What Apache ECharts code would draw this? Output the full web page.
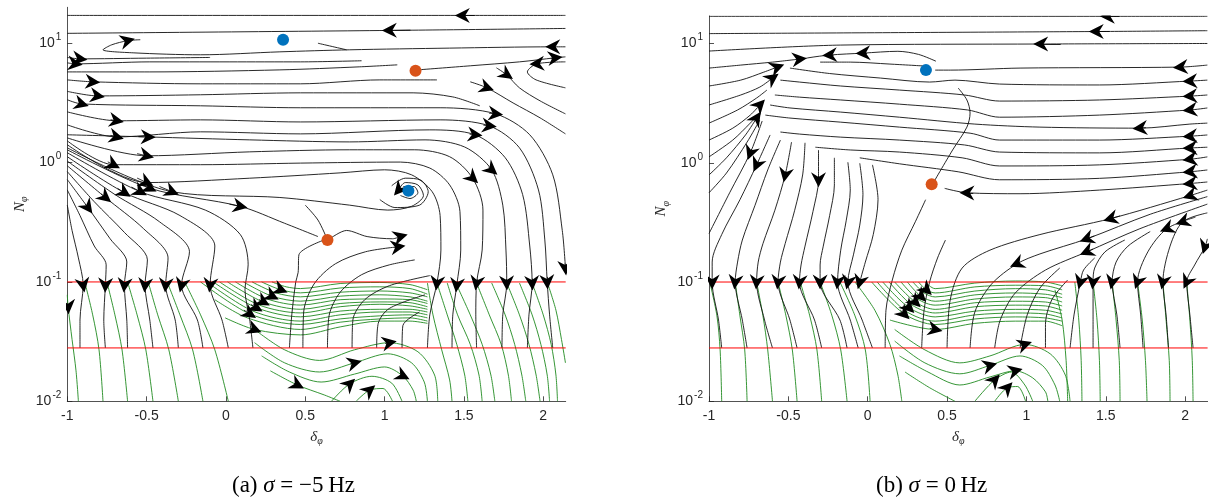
<!DOCTYPE html>
<html><head><meta charset="utf-8">
<script src="https://cdn.jsdelivr.net/npm/echarts@6/dist/echarts.min.js"></script>
<style>html,body{margin:0;padding:0;background:#fff}#c{width:1222px;height:501px}</style>
</head><body><div id="c"></div>
<script>
// ---------- data ----------
const xTicks = [-1, -0.5, 0, 0.5, 1, 1.5, 2];
const yTicks = [0.01, 0.1, 1, 10];
const xRange = [-1, 2.1416];
const yRangeA = [0.01, 20];
const yRangeB = [0.01, 17];
const thresholdLevels = [0.1, 0.028];
const stableA = [[0.36, 10.7], [1.15, 0.58]];
const saddleA = [[1.195, 5.87], [0.64, 0.225]];
const stableB = [[0.367, 5.98]];
const saddleB = [[0.403, 0.66]];
const captionA = '(a) {i|σ} = −5\u2009Hz';
const captionB = '(b) {i|σ} = 0\u2009Hz';

// streamlines: p = points in flow order [delta, N], a = indices of points carrying an arrowhead
const blackA = [
 {p:[[2.14,17.1],[1.49,17.1],[-1,17.1]],a:[1]},
 {p:[[2.14,13.3],[1.03,12.8],[-1,12.1]],a:[1]},
 {p:[[2.14,9.33],[2.06,9.33],[1.41,9.1],[0.78,8.81],[0.34,8.47],[-0.16,8.0],[-0.585,8.31],[-0.775,8.81],[-0.72,9.7],[-0.62,10.5],[-0.54,10.7]],a:[1,9]},
 {p:[[0.76,8.81],[0.58,10.0]],a:[]},
 {p:[[-1,7.6],[-0.92,7.4],[-0.5,7.5],[-0.1,7.6]],a:[1]},
 {p:[[-1,6.85],[-0.95,6.72],[-0.48,6.98],[0.02,6.98],[0.47,6.98],[0.855,7.13]],a:[1]},
 {p:[[-1,5.75],[-0.48,5.75],[0.34,5.98],[0.84,6.34],[1.08,6.59]],a:[]},
 {p:[[-1,4.93],[-0.84,4.75],[-0.16,4.57],[0.47,4.57],[0.97,4.93],[1.33,4.93]],a:[1]},
 {p:[[-1,3.95],[-0.81,3.62],[-0.16,3.70],[0.47,3.84],[1.18,3.84],[1.43,3.55],[1.60,2.99]],a:[1]},
 {p:[[-1,3.36],[-0.91,3.10],[-0.16,2.99],[0.47,2.88],[1.35,2.88],[1.70,2.56],[1.915,1.71],[2.06,0.79],[2.12,0.27],[2.14,0.131]],a:[1,5,9]},
 {p:[[-1,2.66],[-0.69,2.24],[-0.16,2.28],[0.47,2.19],[1.35,2.28],[1.66,2.03],[1.85,1.33],[1.97,0.59],[2.01,0.225],[2.025,0.10],[2.04,0.053],[2.06,0.028]],a:[1,5,9]},
 {p:[[-1,2.07],[-0.69,1.64],[-0.16,1.81],[0.47,1.74],[1.285,1.88],[1.57,1.71],[1.76,1.10],[1.87,0.54],[1.915,0.20],[1.93,0.098],[1.91,0.053],[1.90,0.028]],a:[1,5,9]},
 {p:[[-1,1.71],[-0.49,1.64],[0.15,1.55],[0.78,1.49],[1.255,1.55],[1.505,1.35],[1.675,0.87],[1.745,0.44],[1.765,0.185],[1.77,0.098],[1.745,0.053],[1.74,0.028]],a:[1,6,9]},
 {p:[[-1,1.61],[-0.50,1.14],[0.15,1.23],[0.78,1.28],[1.19,1.28],[1.41,1.12],[1.555,0.74],[1.62,0.40],[1.615,0.185],[1.58,0.098],[1.575,0.053],[1.58,0.028]],a:[1,6,9]},
 {p:[[-1,1.52],[-0.71,0.96],[-0.16,0.96],[0.47,0.99],[1.10,1.01],[1.285,0.90],[1.41,0.65],[1.475,0.39],[1.48,0.185],[1.455,0.094],[1.43,0.053],[1.425,0.028]],a:[1,9]},
 {p:[[-1,1.41],[-0.50,0.68],[0.15,0.74],[0.72,0.82],[1.00,0.87],[1.17,0.79],[1.30,0.57],[1.35,0.36],[1.355,0.185],[1.33,0.098],[1.285,0.053],[1.27,0.028]],a:[1,9]},
 {p:[[-1,1.33],[-0.34,0.57],[0.34,0.51],[0.78,0.44],[1.02,0.40],[1.17,0.43],[1.245,0.53],[1.21,0.65],[1.13,0.68],[1.09,0.59],[1.15,0.58]],a:[1,9]},
 {p:[[1.10,0.53],[1.16,0.50],[1.21,0.56],[1.185,0.63],[1.12,0.63],[1.115,0.57]],a:[]},
 {p:[[0.97,0.49],[1.065,0.42],[1.22,0.44],[1.275,0.57],[1.23,0.71],[1.13,0.74],[1.045,0.64]],a:[]},
 {p:[[-1,1.28],[-0.48,0.61],[0.09,0.43],[0.37,0.31],[0.58,0.24]],a:[1,2]},
 {p:[[-1,1.21],[-0.54,0.57],[-0.13,0.40],[0.09,0.25],[0.14,0.139],[0.12,0.086],[0.15,0.048],[0.17,0.028]],a:[1]},
 {p:[[-1,1.12],[-0.64,0.56],[-0.29,0.36],[-0.07,0.20],[-0.10,0.094],[-0.025,0.048],[0.015,0.028]],a:[1,4]},
 {p:[[-1,1.03],[-0.70,0.54],[-0.42,0.32],[-0.23,0.179],[-0.28,0.094],[-0.18,0.048],[-0.145,0.028]],a:[4]},
 {p:[[-1,0.94],[-0.76,0.51],[-0.52,0.28],[-0.365,0.159],[-0.38,0.094],[-0.32,0.048],[-0.30,0.028]],a:[1,4]},
 {p:[[-1,0.84],[-0.83,0.47],[-0.64,0.26],[-0.495,0.153],[-0.51,0.094],[-0.48,0.048],[-0.46,0.028]],a:[4]},
 {p:[[-1,0.72],[-0.87,0.42],[-0.73,0.23],[-0.625,0.147],[-0.64,0.094],[-0.625,0.048],[-0.62,0.028]],a:[1,4]},
 {p:[[-1,0.59],[-0.92,0.36],[-0.83,0.20],[-0.755,0.139],[-0.76,0.094],[-0.77,0.048],[-0.76,0.028]],a:[4]},
 {p:[[-1,0.44],[-0.97,0.27],[-0.93,0.159],[-0.90,0.094],[-0.92,0.048],[-0.92,0.028]],a:[3]},
 {p:[[0.62,0.225],[0.46,0.169],[0.455,0.12],[0.44,0.10],[0.415,0.053],[0.40,0.028]],a:[]},
 {p:[[0.64,0.225],[0.58,0.33],[0.50,0.44]],a:[]},
 {p:[[0.655,0.23],[0.76,0.27],[0.89,0.24],[1.05,0.23],[1.10,0.24]],a:[4]},
 {p:[[0.485,0.028],[0.49,0.056],[0.555,0.096],[0.69,0.142],[0.88,0.179],[1.085,0.197]],a:[5]},
 {p:[[0.64,0.028],[0.65,0.052],[0.72,0.082],[0.855,0.115],[1.03,0.139],[1.19,0.153]],a:[]},
 {p:[[0.795,0.028],[0.80,0.048],[0.875,0.071],[1.03,0.093],[1.285,0.113]],a:[]},
 {p:[[0.95,0.028],[0.96,0.045],[1.03,0.060],[1.255,0.078]],a:[]},
 {p:[[1.11,0.028],[1.115,0.043],[1.22,0.056]],a:[]},
 {p:[[1.21,5.98],[1.54,6.47],[1.85,6.98],[2.075,7.55],[2.14,7.69]],a:[3]},
 {p:[[2.14,6.98],[1.96,6.72],[1.90,5.75],[1.955,4.93],[2.14,4.23]],a:[1]},
 {p:[[1.705,6.22],[1.77,5.43],[1.85,4.23],[1.98,3.29],[2.14,2.56]],a:[1]},
 {p:[[1.54,4.75],[1.645,4.23],[1.81,3.16],[1.98,2.37],[2.14,1.74]],a:[1]}
];
const greenA = [
 {p:[[-1,0.078],[-0.995,0.062],[-0.97,0.033],[-0.945,0.018],[-0.93,0.01]],a:[1]},
 {p:[[-0.89,0.10],[-0.84,0.053],[-0.80,0.027],[-0.775,0.01]],a:[]},
 {p:[[-0.75,0.10],[-0.70,0.053],[-0.655,0.027],[-0.62,0.01]],a:[]},
 {p:[[-0.62,0.10],[-0.56,0.053],[-0.505,0.027],[-0.46,0.01]],a:[]},
 {p:[[-0.49,0.10],[-0.43,0.053],[-0.36,0.027],[-0.30,0.01]],a:[]},
 {p:[[-0.37,0.10],[-0.29,0.053],[-0.21,0.027],[-0.145,0.01]],a:[]},
 {p:[[-0.26,0.10],[-0.16,0.053],[-0.07,0.027],[0.015,0.01]],a:[]},
 {p:[[0.29,0.10],[0.38,0.091],[0.47,0.088],[0.72,0.097],[0.97,0.099],[1.16,0.095],[1.27,0.086]],a:[]},
 {p:[[0.225,0.10],[0.345,0.086],[0.47,0.081],[0.72,0.089],[0.97,0.091],[1.16,0.088],[1.27,0.079]],a:[1]},
 {p:[[0.165,0.10],[0.315,0.081],[0.47,0.075],[0.72,0.082],[0.97,0.084],[1.16,0.081],[1.27,0.075]],a:[]},
 {p:[[0.11,0.10],[0.29,0.076],[0.47,0.069],[0.72,0.076],[0.97,0.078],[1.16,0.075],[1.27,0.069]],a:[1]},
 {p:[[0.06,0.10],[0.26,0.072],[0.47,0.064],[0.72,0.071],[0.97,0.072],[1.16,0.071],[1.27,0.066]],a:[]},
 {p:[[0.01,0.10],[0.235,0.068],[0.47,0.059],[0.72,0.066],[0.97,0.068],[1.16,0.067],[1.27,0.062]],a:[1]},
 {p:[[-0.04,0.10],[0.21,0.064],[0.47,0.055],[0.72,0.062],[0.97,0.065],[1.16,0.063],[1.27,0.059]],a:[]},
 {p:[[-0.08,0.10],[0.19,0.061],[0.47,0.051],[0.72,0.057],[0.97,0.059],[1.16,0.059],[1.27,0.056]],a:[1]},
 {p:[[-0.12,0.10],[0.17,0.057],[0.47,0.047],[0.72,0.053],[0.97,0.056],[1.16,0.056],[1.27,0.053]],a:[]},
 {p:[[-0.16,0.10],[0.15,0.054],[0.47,0.044],[0.72,0.049],[0.97,0.052],[1.16,0.053],[1.27,0.050]],a:[1]},
 {p:[[-0.07,0.071],[0.135,0.050],[0.47,0.040],[0.72,0.046],[0.97,0.049],[1.16,0.050],[1.27,0.047]],a:[]},
 {p:[[-0.005,0.050],[0.18,0.040],[0.47,0.036],[0.72,0.042],[0.97,0.047],[1.16,0.047],[1.27,0.045]],a:[1]},
 {p:[[0.18,0.040],[0.37,0.027],[0.59,0.022],[0.81,0.027],[1.03,0.031],[1.21,0.026],[1.315,0.0166],[1.335,0.01]],a:[4]},
 {p:[[0.18,0.031],[0.37,0.021],[0.59,0.0176],[0.81,0.021],[1.02,0.025],[1.17,0.021],[1.25,0.0145],[1.27,0.01]],a:[3]},
 {p:[[0.225,0.024],[0.40,0.0176],[0.60,0.0145],[0.81,0.0169],[1.00,0.0194],[1.115,0.0163],[1.18,0.0124],[1.20,0.01]],a:[5]},
 {p:[[0.28,0.018],[0.45,0.0137],[0.62,0.0113],[0.72,0.01]],a:[1]},
 {p:[[0.665,0.01],[0.78,0.014],[0.92,0.0162],[1.045,0.0142],[1.11,0.01]],a:[1]},
 {p:[[0.82,0.01],[0.905,0.0124],[0.99,0.0128],[1.05,0.01]],a:[1]},
 {p:[[1.27,0.098],[1.305,0.053],[1.36,0.027],[1.41,0.0151],[1.425,0.01]],a:[]},
 {p:[[1.33,0.098],[1.395,0.053],[1.455,0.030],[1.505,0.0166],[1.525,0.01]],a:[]},
 {p:[[1.395,0.098],[1.46,0.053],[1.54,0.030],[1.595,0.0166],[1.615,0.01]],a:[]},
 {p:[[1.455,0.094],[1.54,0.053],[1.615,0.030],[1.67,0.0166],[1.695,0.01]],a:[]},
 {p:[[1.58,0.098],[1.66,0.053],[1.735,0.030],[1.78,0.0166],[1.80,0.01]],a:[]},
 {p:[[1.675,0.098],[1.76,0.053],[1.82,0.030],[1.865,0.0166],[1.89,0.01]],a:[]},
 {p:[[1.77,0.098],[1.85,0.053],[1.91,0.030],[1.955,0.0166],[1.98,0.01]],a:[]},
 {p:[[1.85,0.098],[1.93,0.053],[1.985,0.030],[2.025,0.0166],[2.04,0.01]],a:[]},
 {p:[[1.93,0.098],[2.00,0.053],[2.05,0.030],[2.08,0.0166],[2.09,0.01]],a:[]},
 {p:[[2.025,0.10],[2.08,0.058],[2.115,0.033],[2.14,0.021]],a:[]}
];
const blackB = [
 {p:[[2.14,16.9],[1.51,16.9],[-1,16.9]],a:[1]},
 {p:[[2.14,12.8],[1.44,12.6],[-1,12.1]],a:[1]},
 {p:[[2.14,10.0],[1.09,9.9],[-0.17,9.7],[-1,8.64]],a:[1]},
 {p:[[-1,6.22],[-0.80,6.59],[-0.60,6.98],[-0.43,7.4]],a:[3]},
 {p:[[-1,4.40],[-0.80,4.93],[-0.655,5.75],[-0.57,6.34]],a:[3]},
 {p:[[-1,3.05],[-0.80,3.70],[-0.68,4.31],[-0.60,5.13]],a:[3]},
 {p:[[-1,2.15],[-0.82,2.77],[-0.70,3.49],[-0.635,4.07]],a:[]},
 {p:[[-1,1.55],[-0.85,1.95],[-0.74,2.51],[-0.68,3.05]],a:[3]},
 {p:[[-1,1.12],[-0.85,1.55],[-0.74,2.15],[-0.68,2.61]],a:[]},
 {p:[[-1,0.79],[-0.89,1.10],[-0.77,1.71],[-0.70,2.37]],a:[3]},
 {p:[[-1,0.56],[-0.89,0.82],[-0.76,1.49],[-0.68,2.28]],a:[]},
 {p:[[0.43,7.1],[0.32,8.1],[0.19,8.6],[-0.03,8.3],[-0.24,8.0],[-0.37,7.6],[-0.43,7.3]],a:[3,4]},
 {p:[[0.36,6.47],[0.14,6.72],[-0.11,6.98],[-0.30,6.98]],a:[]},
 {p:[[2.14,6.59],[1.97,6.34],[0.96,6.22],[0.52,5.98],[0.425,5.98]],a:[1]},
 {p:[[2.14,4.93],[2.03,4.84],[1.46,4.49],[0.83,4.57],[0.55,4.93],[0.39,4.75],[0.08,5.13],[-0.24,5.6],[-0.49,6.22]],a:[1]},
 {p:[[2.14,3.70],[2.03,3.62],[1.46,3.36],[0.83,3.29],[0.61,3.70],[0.20,4.07],[-0.17,4.40],[-0.43,4.75],[-0.55,4.93]],a:[1]},
 {p:[[2.14,2.88],[2.03,2.77],[1.46,2.51],[0.83,2.41],[0.63,2.77],[0.20,3.10],[-0.17,3.36],[-0.43,3.55],[-0.585,3.70]],a:[1]},
 {p:[[2.14,2.15],[2.03,2.11],[1.715,1.95],[1.085,1.99],[0.675,2.11],[0.20,2.41],[-0.17,2.66],[-0.49,2.88],[-0.615,3.05]],a:[2]},
 {p:[[2.14,1.71],[2.03,1.67],[1.46,1.55],[0.83,1.55],[0.645,1.77],[0.20,1.99],[-0.17,2.19],[-0.49,2.37],[-0.645,2.51]],a:[1]},
 {p:[[2.14,1.35],[2.03,1.33],[1.46,1.21],[0.83,1.23],[0.61,1.41],[0.20,1.55],[-0.17,1.64],[-0.43,1.74],[-0.55,1.81]],a:[1]},
 {p:[[2.14,1.12],[2.03,1.07],[1.46,0.96],[0.83,0.94],[0.595,1.10],[0.20,1.23],[-0.11,1.28],[-0.33,1.35]],a:[1]},
 {p:[[2.14,0.87],[2.03,0.84],[1.46,0.74],[0.83,0.72],[0.57,0.84],[0.20,0.98],[-0.05,1.10]],a:[1]},
 {p:[[2.14,0.69],[2.03,0.67],[1.46,0.59],[0.96,0.55],[0.625,0.56],[0.485,0.61]],a:[1,4]},
 {p:[[0.405,0.65],[0.535,1.28],[0.625,1.99],[0.645,2.61],[0.625,3.36],[0.57,4.23]],a:[]},
 {p:[[-0.665,2.24],[-0.74,1.21],[-0.87,0.56],[-1,0.255]],a:[1]},
 {p:[[-0.615,1.71],[-0.70,0.96],[-0.805,0.49],[-0.92,0.25],[-0.98,0.147],[-0.98,0.10],[-0.94,0.048],[-0.92,0.028]],a:[1,5]},
 {p:[[-0.55,1.55],[-0.63,0.87],[-0.71,0.44],[-0.79,0.225],[-0.82,0.147],[-0.835,0.10],[-0.79,0.048],[-0.76,0.028]],a:[5]},
 {p:[[-0.48,1.49],[-0.52,0.79],[-0.585,0.40],[-0.66,0.21],[-0.69,0.147],[-0.70,0.10],[-0.65,0.048],[-0.60,0.028]],a:[1,5]},
 {p:[[-0.395,1.47],[-0.41,0.79],[-0.46,0.40],[-0.52,0.21],[-0.55,0.147],[-0.565,0.10],[-0.49,0.048],[-0.445,0.028]],a:[5]},
 {p:[[-0.31,1.28],[-0.31,0.72],[-0.345,0.39],[-0.395,0.20],[-0.42,0.139],[-0.43,0.10],[-0.335,0.048],[-0.29,0.028]],a:[1,5]},
 {p:[[-0.21,1.10],[-0.21,0.65],[-0.24,0.36],[-0.28,0.20],[-0.30,0.139],[-0.30,0.10],[-0.175,0.048],[-0.13,0.028]],a:[5]},
 {p:[[-0.125,1.01],[-0.11,0.59],[-0.135,0.33],[-0.17,0.185],[-0.19,0.10],[-0.11,0.048],[-0.06,0.028]],a:[4]},
 {p:[[-0.05,0.99],[-0.03,0.54],[-0.05,0.30],[-0.09,0.169],[-0.125,0.10],[-0.035,0.048],[0.03,0.028]],a:[4]},
 {p:[[0.03,0.96],[0.065,0.49],[0.035,0.25],[-0.015,0.147],[-0.05,0.10]],a:[4]},
 {p:[[0.11,0.028],[0.115,0.058],[0.155,0.104],[0.215,0.185],[0.30,0.32],[0.365,0.49]],a:[]},
 {p:[[0.34,0.028],[0.355,0.058],[0.39,0.10],[0.44,0.159],[0.49,0.225]],a:[]},
 {p:[[2.14,0.59],[2.03,0.53],[1.53,0.34],[1.085,0.25],[0.77,0.185],[0.595,0.131],[0.52,0.071],[0.50,0.028]],a:[1,2]},
 {p:[[2.14,0.52],[1.78,0.37],[1.38,0.23],[1.085,0.172],[0.94,0.142],[0.78,0.096],[0.675,0.056],[0.645,0.028]],a:[2,4]},
 {p:[[2.14,0.45],[1.715,0.28],[1.38,0.179],[1.12,0.126],[0.93,0.081],[0.835,0.048],[0.80,0.028]],a:[2]},
 {p:[[1.21,0.131],[1.085,0.089],[1.005,0.053],[0.96,0.028]],a:[]},
 {p:[[1.26,0.104],[1.16,0.071],[1.12,0.044],[1.12,0.028]],a:[]},
 {p:[[2.14,0.23],[2.125,0.197],[2.06,0.139],[2.01,0.10],[2.03,0.053],[2.05,0.028]],a:[1,3]},
 {p:[[2.14,0.38],[1.985,0.32],[1.905,0.20],[1.86,0.10],[1.88,0.053],[1.895,0.028]],a:[1,3]},
 {p:[[2.065,0.35],[1.885,0.28],[1.765,0.179],[1.70,0.10],[1.72,0.053],[1.735,0.028]],a:[1,3]},
 {p:[[1.78,0.265],[1.64,0.20],[1.565,0.147],[1.54,0.10],[1.57,0.053],[1.59,0.028]],a:[3]},
 {p:[[1.62,0.225],[1.495,0.179],[1.43,0.131],[1.42,0.10],[1.42,0.053],[1.42,0.028]],a:[3]},
 {p:[[1.43,0.159],[1.36,0.126],[1.34,0.10],[1.30,0.053],[1.275,0.028]],a:[2]}
];
const greenB = [
 {p:[[-0.995,0.10],[-0.95,0.052],[-0.93,0.027],[-0.92,0.01]],a:[]},
 {p:[[-0.835,0.10],[-0.805,0.052],[-0.775,0.027],[-0.76,0.01]],a:[]},
 {p:[[-0.70,0.10],[-0.66,0.052],[-0.63,0.027],[-0.60,0.01]],a:[]},
 {p:[[-0.565,0.10],[-0.515,0.052],[-0.475,0.027],[-0.445,0.01]],a:[]},
 {p:[[-0.425,0.10],[-0.365,0.052],[-0.32,0.027],[-0.29,0.01]],a:[]},
 {p:[[-0.30,0.10],[-0.225,0.052],[-0.17,0.027],[-0.13,0.01]],a:[]},
 {p:[[-0.175,0.10],[-0.08,0.052],[-0.015,0.027],[0.015,0.01]],a:[]},
 {p:[[-0.08,0.10],[0.045,0.058],[0.14,0.030],[0.19,0.0166],[0.215,0.01]],a:[]},
 {p:[[0.36,0.10],[0.425,0.088],[0.675,0.098],[0.93,0.102],[1.12,0.10],[1.225,0.093]],a:[]},
 {p:[[0.32,0.10],[0.37,0.086],[0.425,0.081],[0.675,0.091],[0.93,0.094],[1.12,0.093],[1.225,0.086]],a:[1]},
 {p:[[0.285,0.10],[0.355,0.081],[0.425,0.075],[0.675,0.084],[0.93,0.088],[1.12,0.086],[1.225,0.079]],a:[]},
 {p:[[0.25,0.10],[0.335,0.076],[0.425,0.069],[0.675,0.078],[0.93,0.081],[1.12,0.079],[1.225,0.074]],a:[1]},
 {p:[[0.21,0.10],[0.315,0.072],[0.425,0.064],[0.675,0.072],[0.93,0.075],[1.12,0.074],[1.225,0.068]],a:[]},
 {p:[[0.17,0.10],[0.30,0.068],[0.425,0.059],[0.675,0.067],[0.93,0.069],[1.12,0.068],[1.225,0.063]],a:[1]},
 {p:[[0.135,0.10],[0.28,0.064],[0.425,0.055],[0.675,0.062],[0.93,0.064],[1.12,0.063],[1.225,0.058]],a:[]},
 {p:[[0.095,0.10],[0.26,0.061],[0.425,0.051],[0.675,0.057],[0.93,0.059],[1.12,0.058],[1.225,0.054]],a:[1]},
 {p:[[0.06,0.10],[0.24,0.057],[0.425,0.047],[0.675,0.053],[0.93,0.055],[1.12,0.054],[1.225,0.050]],a:[]},
 {p:[[0.025,0.10],[0.23,0.054],[0.425,0.044],[0.675,0.049],[0.93,0.051],[1.12,0.050],[1.225,0.047]],a:[1]},
 {p:[[0.14,0.048],[0.425,0.040],[0.675,0.045],[0.93,0.047],[1.12,0.047],[1.225,0.043]],a:[1]},
 {p:[[0.17,0.040],[0.36,0.027],[0.58,0.021],[0.77,0.024],[0.99,0.030],[1.15,0.025],[1.245,0.0166],[1.275,0.01]],a:[4]},
 {p:[[0.17,0.032],[0.36,0.021],[0.58,0.017],[0.77,0.020],[0.96,0.024],[1.10,0.020],[1.18,0.0137],[1.21,0.01]],a:[3]},
 {p:[[0.20,0.024],[0.38,0.0176],[0.58,0.0137],[0.77,0.016],[0.93,0.018],[1.04,0.0157],[1.12,0.012],[1.135,0.01]],a:[4]},
 {p:[[0.235,0.0176],[0.39,0.013],[0.55,0.01]],a:[]},
 {p:[[0.675,0.01],[0.80,0.0151],[0.905,0.0176],[0.99,0.0137],[1.04,0.01]],a:[1]},
 {p:[[0.80,0.01],[0.88,0.013],[0.945,0.0133],[0.995,0.01]],a:[1]},
 {p:[[1.18,0.086],[1.225,0.048],[1.25,0.022],[1.26,0.01]],a:[]},
 {p:[[1.305,0.10],[1.33,0.048],[1.345,0.022],[1.35,0.01]],a:[]},
 {p:[[1.42,0.10],[1.445,0.048],[1.46,0.022],[1.465,0.01]],a:[]},
 {p:[[1.54,0.10],[1.565,0.048],[1.585,0.022],[1.59,0.01]],a:[]},
 {p:[[1.70,0.10],[1.73,0.048],[1.75,0.022],[1.76,0.01]],a:[]},
 {p:[[1.86,0.10],[1.88,0.048],[1.90,0.022],[1.905,0.01]],a:[]},
 {p:[[2.01,0.10],[2.03,0.048],[2.045,0.022],[2.05,0.01]],a:[]}
];

// ---------- styling ----------
const AX = '#262626';
const SANS = 'Liberation Sans, Arial, Helvetica, sans-serif';
const SERIF = 'Liberation Serif, Times New Roman, serif';
const BLACK = '#111111', GREEN = '#1f8a1f', RED = '#ff0000', BLUE = '#0072BD', ORANGE = '#D95319';
const ARROW = 'path://M0,0 L6,13 L0,9 L-6,13 Z';

const grids = [
  {left: 67.3, top: 7.3, width: 498.4, height: 394},
  {left: 709, top: 16, width: 498.6, height: 385.3}
];

function xAxisFor(gi) {
  return {
    gridIndex: gi, type: 'value', min: xRange[0], max: xRange[1], interval: 0.5,
    axisLine: {show: true, onZero: false, lineStyle: {color: AX, width: 0.8}},
    axisTick: {show: true, inside: true, length: 5, customValues: xTicks, lineStyle: {color: AX, width: 0.8}},
    axisLabel: {customValues: xTicks, color: AX, fontSize: 14, fontFamily: SANS, margin: 8,
      formatter: v => (Math.abs(v * 2 - Math.round(v * 2)) < 1e-6 ? String(v) : '')},
    splitLine: {show: false},
    name: '{d|δ}{s|φ}', nameLocation: 'middle', nameGap: 28,
    nameTextStyle: {rich: {
      d: {fontFamily: SERIF, fontStyle: 'italic', fontSize: 15, color: AX, verticalAlign: 'top', lineHeight: 15},
      s: {fontFamily: SERIF, fontStyle: 'italic', fontSize: 10, color: AX, verticalAlign: 'top', lineHeight: 10, padding: [7, 0, 0, 0]}
    }}
  };
}
function yAxisFor(gi, range) {
  return {
    gridIndex: gi, type: 'log', logBase: 10, min: range[0], max: range[1],
    axisLine: {show: true, onZero: false, lineStyle: {color: AX, width: 0.8}},
    axisTick: {show: true, inside: true, length: 5, customValues: yTicks, lineStyle: {color: AX, width: 0.8}},
    minorTick: {show: false},
    axisLabel: {customValues: yTicks, margin: 6,
      formatter: v => {
        const e = Math.log10(v);
        if (Math.abs(e - Math.round(e)) > 1e-6) return '';
        return '{b|10}{s|' + Math.round(e) + '}';
      },
      rich: {
        b: {fontSize: 14, fontFamily: SANS, color: AX, verticalAlign: 'bottom', lineHeight: 14},
        s: {fontSize: 10, fontFamily: SANS, color: AX, verticalAlign: 'bottom', lineHeight: 10, padding: [0, 0, 8, 1]}
      }},
    splitLine: {show: false},
    name: '{n|N}{s|φ}', nameLocation: 'middle', nameRotate: 90, nameGap: 40,
    nameTextStyle: {rich: {
      n: {fontFamily: SERIF, fontStyle: 'italic', fontSize: 15, color: AX, verticalAlign: 'top', lineHeight: 15},
      s: {fontFamily: SERIF, fontStyle: 'italic', fontSize: 10, color: AX, verticalAlign: 'top', lineHeight: 10, padding: [7, 0, 0, 0]}
    }}
  };
}

function streamSeries(streams, color, gi, width) {
  return streams.map(s => ({
    type: 'line', xAxisIndex: gi, yAxisIndex: gi, data: s.p,
    symbol: 'none', showSymbol: false, smooth: 0.3, silent: true, animation: false,
    lineStyle: {color: color, width: width}, z: 2
  }));
}
function arrowData(streams) {
  const out = [];
  streams.forEach(s => s.a.forEach(k => {
    const q = s.p[k], r = s.p[k - 1], t = 0.12;
    out.push({coords: [[q[0] - (q[0] - r[0]) * t, q[1] * Math.pow(r[1] / q[1], t)], [q[0], q[1]]]});
  }));
  return out;
}
function arrowSeries(streams, gi) {
  return {
    type: 'lines', coordinateSystem: 'cartesian2d', xAxisIndex: gi, yAxisIndex: gi,
    symbol: ['none', ARROW], symbolSize: 15, silent: true, animation: false,
    lineStyle: {color: '#000', width: 0.8, opacity: 1}, data: arrowData(streams), z: 6
  };
}
function thresholdSeries(gi) {
  return thresholdLevels.map(v => ({
    type: 'line', xAxisIndex: gi, yAxisIndex: gi, data: [[xRange[0], v], [xRange[1], v]],
    symbol: 'none', silent: true, animation: false, lineStyle: {color: RED, width: 1}, z: 4
  }));
}
function dotSeries(pts, color, gi) {
  return {type: 'scatter', xAxisIndex: gi, yAxisIndex: gi, data: pts, symbolSize: 12,
    itemStyle: {color: color, opacity: 1}, silent: true, animation: false, z: 8};
}

const series = [].concat(
  streamSeries(greenA, GREEN, 0, 0.9),
  streamSeries(blackA, BLACK, 0, 0.9),
  thresholdSeries(0),
  [arrowSeries(blackA.concat(greenA), 0), dotSeries(stableA, BLUE, 0), dotSeries(saddleA, ORANGE, 0)],
  streamSeries(greenB, GREEN, 1, 0.9),
  streamSeries(blackB, BLACK, 1, 0.9),
  thresholdSeries(1),
  [arrowSeries(blackB.concat(greenB), 1), dotSeries(stableB, BLUE, 1), dotSeries(saddleB, ORANGE, 1)]
);

const capRich = {i: {fontFamily: SERIF, fontStyle: 'italic', fontSize: 23, fill: '#000'}};
const chart = echarts.init(document.getElementById('c'), null, {renderer: 'canvas'});
chart.setOption({
  animation: false,
  backgroundColor: '#fff',
  grid: grids,
  xAxis: [xAxisFor(0), xAxisFor(1)],
  yAxis: [yAxisFor(0, yRangeA), yAxisFor(1, yRangeB)],
  series: series,
  graphic: [
    {type: 'text', left: 232, top: 474, style: {text: captionA, rich: capRich, fontFamily: SERIF, fontSize: 23, fill: '#000'}},
    {type: 'text', left: 876, top: 474, style: {text: captionB, rich: capRich, fontFamily: SERIF, fontSize: 23, fill: '#000'}}
  ]
});
</script>
</body></html>
